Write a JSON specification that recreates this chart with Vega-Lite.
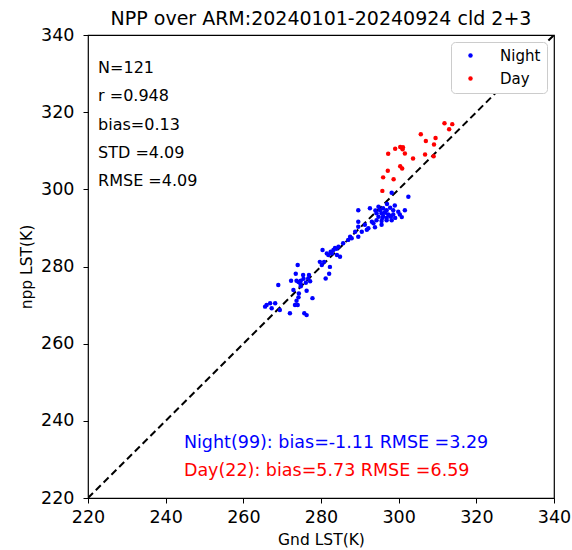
{
  "$schema": "https://vega.github.io/schema/vega-lite/v6.json",
  "autosize": {"type": "none"},
  "padding": {"left": 88, "top": 35, "right": 18, "bottom": 52},
  "width": 466,
  "height": 463,
  "title": {"text": "NPP over ARM:20240101-20240924 cld 2+3", "fontSize": 19, "fontWeight": "normal", "font": "DejaVu Sans", "color": "black", "offset": 6, "dy": 9, "anchor": "middle"},
  "config": {
    "font": "DejaVu Sans",
    "view": {"stroke": "black", "strokeWidth": 1.2},
    "axis": {"grid": false, "domain": false, "tickColor": "black", "tickSize": 5, "labelColor": "black", "labelFontSize": 17.5, "titleFontSize": 15.5, "titleFontWeight": "normal", "titleColor": "black", "labelFlush": false, "labelOverlap": false}
  },
  "datasets": {
    "diag": [{"gx": 220, "gy": 220}, {"gx": 340, "gy": 340}],
    "pts": [
      {"gx": 274.0, "gy": 280.4, "type": "Night"},
      {"gx": 273.5, "gy": 278.1, "type": "Night"},
      {"gx": 275.4, "gy": 277.8, "type": "Night"},
      {"gx": 276.9, "gy": 277.8, "type": "Night"},
      {"gx": 272.3, "gy": 276.3, "type": "Night"},
      {"gx": 273.7, "gy": 276.3, "type": "Night"},
      {"gx": 274.8, "gy": 276.3, "type": "Night"},
      {"gx": 276.1, "gy": 275.8, "type": "Night"},
      {"gx": 276.7, "gy": 276.9, "type": "Night"},
      {"gx": 269.0, "gy": 275.2, "type": "Night"},
      {"gx": 274.8, "gy": 274.9, "type": "Night"},
      {"gx": 272.9, "gy": 273.9, "type": "Night"},
      {"gx": 276.3, "gy": 273.7, "type": "Night"},
      {"gx": 274.3, "gy": 273.0, "type": "Night"},
      {"gx": 274.2, "gy": 272.0, "type": "Night"},
      {"gx": 277.8, "gy": 271.8, "type": "Night"},
      {"gx": 273.7, "gy": 271.1, "type": "Night"},
      {"gx": 273.3, "gy": 270.0, "type": "Night"},
      {"gx": 274.0, "gy": 270.0, "type": "Night"},
      {"gx": 268.2, "gy": 270.5, "type": "Night"},
      {"gx": 266.9, "gy": 270.5, "type": "Night"},
      {"gx": 266.0, "gy": 270.0, "type": "Night"},
      {"gx": 267.3, "gy": 269.2, "type": "Night"},
      {"gx": 269.4, "gy": 268.7, "type": "Night"},
      {"gx": 272.0, "gy": 267.9, "type": "Night"},
      {"gx": 275.7, "gy": 267.9, "type": "Night"},
      {"gx": 276.3, "gy": 267.4, "type": "Night"},
      {"gx": 265.6, "gy": 269.6, "type": "Night"},
      {"gx": 274.7, "gy": 275.5, "type": "Night"},
      {"gx": 277.2, "gy": 276.2, "type": "Night"},
      {"gx": 279.7, "gy": 281.2, "type": "Night"},
      {"gx": 280.2, "gy": 280.4, "type": "Night"},
      {"gx": 282.3, "gy": 279.9, "type": "Night"},
      {"gx": 282.1, "gy": 278.1, "type": "Night"},
      {"gx": 281.2, "gy": 276.9, "type": "Night"},
      {"gx": 280.4, "gy": 284.3, "type": "Night"},
      {"gx": 281.9, "gy": 283.0, "type": "Night"},
      {"gx": 282.8, "gy": 283.4, "type": "Night"},
      {"gx": 284.5, "gy": 285.1, "type": "Night"},
      {"gx": 284.9, "gy": 282.5, "type": "Night"},
      {"gx": 281.5, "gy": 283.4, "type": "Night"},
      {"gx": 283.2, "gy": 284.3, "type": "Night"},
      {"gx": 284.1, "gy": 283.0, "type": "Night"},
      {"gx": 285.7, "gy": 286.0, "type": "Night"},
      {"gx": 287.5, "gy": 287.7, "type": "Night"},
      {"gx": 283.6, "gy": 284.8, "type": "Night"},
      {"gx": 280.8, "gy": 281.2, "type": "Night"},
      {"gx": 302.5, "gy": 298.1, "type": "Night"},
      {"gx": 289.6, "gy": 294.6, "type": "Night"},
      {"gx": 292.6, "gy": 295.1, "type": "Night"},
      {"gx": 294.8, "gy": 295.5, "type": "Night"},
      {"gx": 295.2, "gy": 294.6, "type": "Night"},
      {"gx": 296.0, "gy": 295.1, "type": "Night"},
      {"gx": 296.9, "gy": 294.6, "type": "Night"},
      {"gx": 297.8, "gy": 295.2, "type": "Night"},
      {"gx": 298.6, "gy": 294.6, "type": "Night"},
      {"gx": 299.9, "gy": 294.2, "type": "Night"},
      {"gx": 301.6, "gy": 294.6, "type": "Night"},
      {"gx": 294.3, "gy": 293.8, "type": "Night"},
      {"gx": 295.6, "gy": 293.8, "type": "Night"},
      {"gx": 296.5, "gy": 294.0, "type": "Night"},
      {"gx": 297.3, "gy": 293.5, "type": "Night"},
      {"gx": 298.6, "gy": 293.5, "type": "Night"},
      {"gx": 300.3, "gy": 293.5, "type": "Night"},
      {"gx": 294.8, "gy": 292.9, "type": "Night"},
      {"gx": 295.8, "gy": 292.6, "type": "Night"},
      {"gx": 296.9, "gy": 292.6, "type": "Night"},
      {"gx": 298.0, "gy": 292.9, "type": "Night"},
      {"gx": 299.1, "gy": 292.6, "type": "Night"},
      {"gx": 294.3, "gy": 292.0, "type": "Night"},
      {"gx": 295.6, "gy": 291.8, "type": "Night"},
      {"gx": 296.9, "gy": 292.0, "type": "Night"},
      {"gx": 298.2, "gy": 292.0, "type": "Night"},
      {"gx": 293.1, "gy": 291.6, "type": "Night"},
      {"gx": 289.6, "gy": 291.6, "type": "Night"},
      {"gx": 293.5, "gy": 291.2, "type": "Night"},
      {"gx": 291.3, "gy": 290.8, "type": "Night"},
      {"gx": 295.6, "gy": 290.8, "type": "Night"},
      {"gx": 289.6, "gy": 290.3, "type": "Night"},
      {"gx": 292.2, "gy": 289.9, "type": "Night"},
      {"gx": 293.9, "gy": 290.2, "type": "Night"},
      {"gx": 288.8, "gy": 289.0, "type": "Night"},
      {"gx": 290.5, "gy": 289.0, "type": "Night"},
      {"gx": 291.8, "gy": 289.5, "type": "Night"},
      {"gx": 289.6, "gy": 287.7, "type": "Night"},
      {"gx": 287.9, "gy": 287.3, "type": "Night"},
      {"gx": 287.0, "gy": 286.9, "type": "Night"},
      {"gx": 298.2, "gy": 299.1, "type": "Night"},
      {"gx": 299.0, "gy": 295.8, "type": "Night"},
      {"gx": 297.0, "gy": 296.2, "type": "Night"},
      {"gx": 296.0, "gy": 293.0, "type": "Night"},
      {"gx": 294.0, "gy": 294.5, "type": "Night"},
      {"gx": 300.8, "gy": 292.8, "type": "Night"},
      {"gx": 274.2, "gy": 276.0, "type": "Night"},
      {"gx": 275.5, "gy": 276.8, "type": "Night"},
      {"gx": 282.5, "gy": 283.8, "type": "Night"},
      {"gx": 284.0, "gy": 284.6, "type": "Night"},
      {"gx": 296.4, "gy": 294.0, "type": "Night"},
      {"gx": 297.6, "gy": 293.2, "type": "Night"},
      {"gx": 311.8, "gy": 317.1, "type": "Day"},
      {"gx": 313.8, "gy": 316.9, "type": "Day"},
      {"gx": 313.0, "gy": 315.6, "type": "Day"},
      {"gx": 305.7, "gy": 314.3, "type": "Day"},
      {"gx": 309.5, "gy": 313.3, "type": "Day"},
      {"gx": 307.0, "gy": 312.5, "type": "Day"},
      {"gx": 309.1, "gy": 311.6, "type": "Day"},
      {"gx": 300.4, "gy": 311.0, "type": "Day"},
      {"gx": 301.1, "gy": 310.9, "type": "Day"},
      {"gx": 299.1, "gy": 310.5, "type": "Day"},
      {"gx": 301.0, "gy": 310.4, "type": "Day"},
      {"gx": 301.6, "gy": 309.3, "type": "Day"},
      {"gx": 297.3, "gy": 309.2, "type": "Day"},
      {"gx": 306.8, "gy": 309.0, "type": "Day"},
      {"gx": 309.0, "gy": 308.6, "type": "Day"},
      {"gx": 303.7, "gy": 308.0, "type": "Day"},
      {"gx": 300.4, "gy": 306.0, "type": "Day"},
      {"gx": 300.9, "gy": 305.4, "type": "Day"},
      {"gx": 297.2, "gy": 304.8, "type": "Day"},
      {"gx": 296.0, "gy": 303.1, "type": "Day"},
      {"gx": 298.7, "gy": 302.6, "type": "Day"},
      {"gx": 295.8, "gy": 299.6, "type": "Day"}
    ],
    "stats": [
      {"gx": 222.6, "gy": 331.4, "label": "N=121"},
      {"gx": 222.6, "gy": 324.1, "label": "r =0.948"},
      {"gx": 222.6, "gy": 316.8, "label": "bias=0.13"},
      {"gx": 222.6, "gy": 309.5, "label": "STD =4.09"},
      {"gx": 222.6, "gy": 302.2, "label": "RMSE =4.09"}
    ],
    "sub": [
      {"gx": 244.7, "gy": 234.2, "label": "Night(99): bias=-1.11 RMSE =3.29", "col": "blue"},
      {"gx": 244.7, "gy": 227.0, "label": "Day(22): bias=5.73 RMSE =6.59", "col": "red"}
    ]
  },
  "layer": [
    {
      "data": {"name": "diag"},
      "mark": {"type": "line", "color": "black", "strokeWidth": 2, "strokeDash": [7, 4], "clip": true},
      "encoding": {
        "x": {"field": "gx", "type": "quantitative"},
        "y": {"field": "gy", "type": "quantitative"}
      }
    },
    {
      "data": {"name": "pts"},
      "mark": {"type": "point", "filled": true, "opacity": 1, "size": 20},
      "encoding": {
        "x": {"field": "gx", "type": "quantitative", "scale": {"domain": [220, 340], "nice": false, "zero": false}, "axis": {"values": [220, 240, 260, 280, 300, 320, 340], "title": "Gnd LST(K)", "titlePadding": 7, "labelPadding": 5}},
        "y": {"field": "gy", "type": "quantitative", "scale": {"domain": [220, 340], "nice": false, "zero": false}, "axis": {"values": [220, 240, 260, 280, 300, 320, 340], "title": "npp LST(K)", "titlePadding": 6, "labelPadding": 9}},
        "color": {"field": "type", "type": "nominal", "scale": {"domain": ["Night", "Day"], "range": ["blue", "red"]},
          "legend": {"title": null, "orient": "top-right", "offset": 7, "padding": 6, "strokeColor": "#cccccc", "fillColor": "white", "cornerRadius": 4, "labelFontSize": 15, "labelColor": "black", "symbolSize": 20, "symbolType": "circle", "labelOffset": 22, "symbolOffset": 6, "rowPadding": 7}}
      }
    },
    {
      "data": {"name": "stats"},
      "mark": {"type": "text", "align": "left", "baseline": "middle", "fontSize": 16, "color": "black"},
      "encoding": {
        "x": {"field": "gx", "type": "quantitative"},
        "y": {"field": "gy", "type": "quantitative"},
        "text": {"field": "label"}
      }
    },
    {
      "data": {"name": "sub"},
      "mark": {"type": "text", "align": "left", "baseline": "middle", "fontSize": 17.5},
      "encoding": {
        "x": {"field": "gx", "type": "quantitative"},
        "y": {"field": "gy", "type": "quantitative"},
        "text": {"field": "label"},
        "color": {"field": "col", "type": "nominal", "scale": null}
      }
    }
  ]
}
